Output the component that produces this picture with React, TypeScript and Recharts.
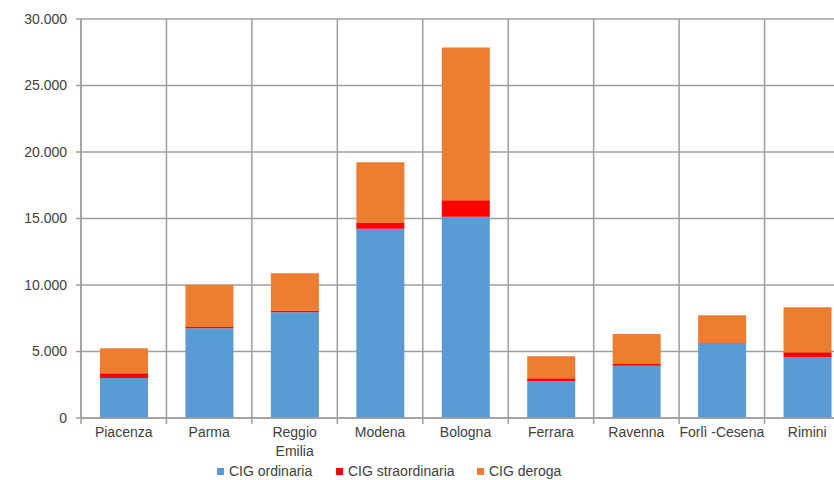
import React from 'react';
import { BarChart, Bar, XAxis, YAxis, CartesianGrid } from 'recharts';

// Province (categorie asse X)
const categories = [
  'Piacenza',
  'Parma',
  'Reggio Emilia',
  'Modena',
  'Bologna',
  'Ferrara',
  'Ravenna',
  'Forlì -Cesena',
  'Rimini'
];

// Righe delle etichette (Excel manda a capo solo Reggio Emilia)
const tickLines: string[][] = [
  ['Piacenza'],
  ['Parma'],
  ['Reggio', 'Emilia'],
  ['Modena'],
  ['Bologna'],
  ['Ferrara'],
  ['Ravenna'],
  ['Forlì -Cesena'],
  ['Rimini']
];

const cigOrdinaria = [3000, 6750, 7950, 14230, 15140, 2760, 3930, 5610, 4560];
const cigStraordinaria = [360, 100, 120, 430, 1230, 230, 130, 20, 380];
const cigDeroga = [1880, 3150, 2810, 4560, 11480, 1650, 2260, 2090, 3380];

const yTicks = [0, 5000, 10000, 15000, 20000, 25000, 30000];

const seriesNames = ['CIG ordinaria', 'CIG straordinaria', 'CIG deroga'];

const COLORS = {
  ordinaria: '#5B9BD5',
  straordinaria: '#FF0000',
  deroga: '#ED7D31',
  grid: '#9e9e9e',
  text: '#404040'
};

const FONT = '"Liberation Sans", Arial, sans-serif';

const data = categories.map((name, i) => ({
  name,
  ordinaria: cigOrdinaria[i],
  straordinaria: cigStraordinaria[i],
  deroga: cigDeroga[i]
}));

// chart layout
const CHART_W = 870;
const CHART_H = 480;
const MARGIN = { top: 19, right: 20, left: 0, bottom: 22 };
const Y_AXIS_W = 81;
const X_AXIS_H = 40;
const PLOT_LEFT = MARGIN.left + Y_AXIS_W;
const PLOT_W = CHART_W - PLOT_LEFT - MARGIN.right;
const PLOT_BOTTOM = CHART_H - MARGIN.bottom - X_AXIS_H;
const BAND = PLOT_W / categories.length;

const formatThousands = (v: number) =>
  String(v).replace(/\B(?=(\d{3})+(?!\d))/g, '.');

const CategoryTick = (props: any) => {
  const { x, index } = props;
  const lines = tickLines[index] || [String(props.payload?.value)];
  const left = x - BAND / 2;
  return (
    <g>
      <line x1={left} x2={left} y1={PLOT_BOTTOM} y2={PLOT_BOTTOM + 6} stroke={COLORS.grid} strokeWidth={1.5} />
      {index === categories.length - 1 && (
        <line x1={left + BAND} x2={left + BAND} y1={PLOT_BOTTOM} y2={PLOT_BOTTOM + 6} stroke={COLORS.grid} strokeWidth={1.5} />
      )}
      <text x={x} y={PLOT_BOTTOM + 9} textAnchor="middle" fill={COLORS.text} fontSize={14} fontFamily={FONT}>
        {lines.map((l, i) => (
          <tspan key={i} x={x} dy={i === 0 ? '0.71em' : '1.35em'}>
            {l}
          </tspan>
        ))}
      </text>
    </g>
  );
};

const legendItems = [
  { label: seriesNames[0], color: COLORS.ordinaria, left: 217 },
  { label: seriesNames[1], color: COLORS.straordinaria, left: 336 },
  { label: seriesNames[2], color: COLORS.deroga, left: 477 }
];

export default function App() {
  return (
    <div
      style={{
        position: 'fixed',
        top: 0,
        left: 0,
        width: 834,
        height: 480,
        overflow: 'hidden',
        background: '#fff'
      }}
    >
      <BarChart width={CHART_W} height={CHART_H} data={data} margin={MARGIN} barSize={48}>
        <CartesianGrid
          stroke={COLORS.grid}
          strokeWidth={1.5}
          verticalCoordinatesGenerator={() =>
            categories.map((_, i) => PLOT_LEFT + i * BAND).concat([PLOT_LEFT + PLOT_W])
          }
        />
        <XAxis
          dataKey="name"
          height={X_AXIS_H}
          interval={0}
          axisLine={{ stroke: COLORS.grid, strokeWidth: 1.5 }}
          tickLine={false}
          tick={<CategoryTick />}
        />
        <YAxis
          width={Y_AXIS_W}
          domain={[0, 30000]}
          ticks={yTicks}
          interval={0}
          tickFormatter={formatThousands}
          axisLine={{ stroke: COLORS.grid, strokeWidth: 1.5 }}
          tickLine={{ stroke: COLORS.grid, strokeWidth: 1.5 }}
          tickSize={5}
          tickMargin={9}
          tick={{ fill: COLORS.text, fontSize: 14, fontFamily: FONT }}
        />
        <Bar dataKey="ordinaria" name={seriesNames[0]} stackId="a" fill={COLORS.ordinaria} isAnimationActive={false} />
        <Bar dataKey="straordinaria" name={seriesNames[1]} stackId="a" fill={COLORS.straordinaria} isAnimationActive={false} />
        <Bar dataKey="deroga" name={seriesNames[2]} stackId="a" fill={COLORS.deroga} isAnimationActive={false} />
      </BarChart>

      {legendItems.map((item) => (
        <div
          key={item.label}
          style={{
            position: 'absolute',
            top: 463,
            left: item.left,
            display: 'flex',
            alignItems: 'center',
            height: 16,
            lineHeight: '16px',
            fontFamily: FONT,
            fontSize: 14,
            color: COLORS.text,
            whiteSpace: 'nowrap'
          }}
        >
          <span style={{ display: 'inline-block', width: 7, height: 7, background: item.color, marginRight: 5 }} />
          {item.label}
        </div>
      ))}
    </div>
  );
}
